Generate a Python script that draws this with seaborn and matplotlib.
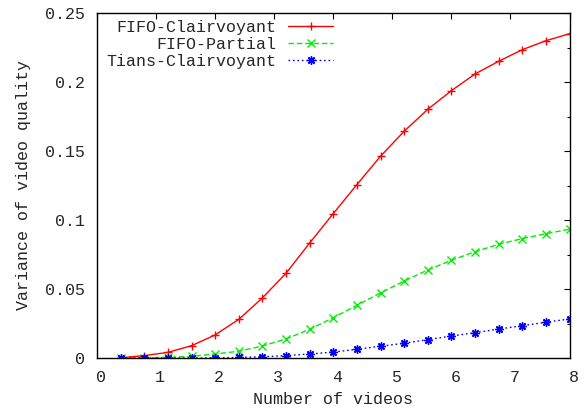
import matplotlib
matplotlib.use('Agg')
import matplotlib.pyplot as plt
from matplotlib.transforms import ScaledTranslation
import seaborn as sns
import pandas as pd

# number of videos, sampled every 0.4
videos = [0.4, 0.8, 1.2, 1.6, 2.0, 2.4, 2.8, 3.2, 3.6, 4.0,
          4.4, 4.8, 5.2, 5.6, 6.0, 6.4, 6.8, 7.2, 7.6, 8.0]
fifo_clair = [0.0002, 0.0017, 0.0041, 0.0089, 0.0167, 0.0280, 0.0435, 0.0614, 0.0833, 0.1046,
              0.1256, 0.1462, 0.1643, 0.1802, 0.1937, 0.2058, 0.2150, 0.2234, 0.2299, 0.2350]
fifo_partial = [0.0000, 0.0002, 0.0005, 0.0012, 0.0029, 0.0049, 0.0087, 0.0138, 0.0208, 0.0292,
                0.0382, 0.0471, 0.0558, 0.0638, 0.0708, 0.0770, 0.0824, 0.0865, 0.0901, 0.0933]
tians_clair = [0.0000, 0.0000, 0.0000, 0.0000, 0.0001, 0.0004, 0.0009, 0.0017, 0.0029, 0.0043,
               0.0063, 0.0085, 0.0107, 0.0133, 0.0159, 0.0183, 0.0210, 0.0234, 0.0259, 0.0283]

series = [
    ('FIFO-Clairvoyant', fifo_clair, '#ff0000', '-', '+'),
    ('FIFO-Partial', fifo_partial, '#00ee00', (0, (4, 2)), 'x'),
    ('Tians-Clairvoyant', tians_clair, '#0000ff', (0, (1.2, 2)), (8, 2, 0)),
]

sns.set_style('white')
plt.rcParams['font.family'] = ['Liberation Mono', 'DejaVu Sans Mono']
plt.rcParams['font.size'] = 12

fig = plt.figure(figsize=(5.85, 4.08), dpi=100)
ax = fig.add_axes([97 / 585, 50 / 408, 472.5 / 585, 345 / 408])

for name, vals, color, ls, mk in series:
    df = pd.DataFrame({'videos': videos, 'var': vals})
    sns.lineplot(data=df, x='videos', y='var', ax=ax, label=name, color=color,
                 linestyle=ls, linewidth=1, marker=mk, markersize=6,
                 markeredgecolor=color, markerfacecolor=color, markeredgewidth=1)

ax.set_xlim(0, 8)
ax.set_ylim(0, 0.25)
ax.set_xticks(range(0, 9))
ax.set_yticks([0, 0.05, 0.1, 0.15, 0.2, 0.25])
ax.set_yticklabels(['0', '0.05', '0.1', '0.15', '0.2', '0.25'])
ax.set_yticks([0.025, 0.075, 0.125, 0.175, 0.225], minor=True)
ax.tick_params(which='both', direction='in', top=True, right=True, color='black', width=0.8)
ax.tick_params(which='major', length=4.5)
ax.tick_params(which='minor', length=2.5)
ax.tick_params(axis='y', pad=9)
ax.tick_params(axis='x', pad=9)
for spine in ax.spines.values():
    spine.set_color('black')
    spine.set_linewidth(1)

for lab in ax.get_xticklabels():
    lab.set_transform(lab.get_transform() + ScaledTranslation(4 / 100, 0, fig.dpi_scale_trans))

ax.set_xlabel('Number of videos', labelpad=5)
ax.set_ylabel('Variance of video quality', labelpad=10)

ax.legend(loc='upper right', bbox_to_anchor=(333 / 585, 388 / 408),
          bbox_transform=fig.transFigure, frameon=False,
          markerfirst=False, borderpad=0, handlelength=2.7, handletextpad=0.72,
          labelspacing=0.12, numpoints=1, borderaxespad=0)

fig.savefig('out.png', dpi=100)
